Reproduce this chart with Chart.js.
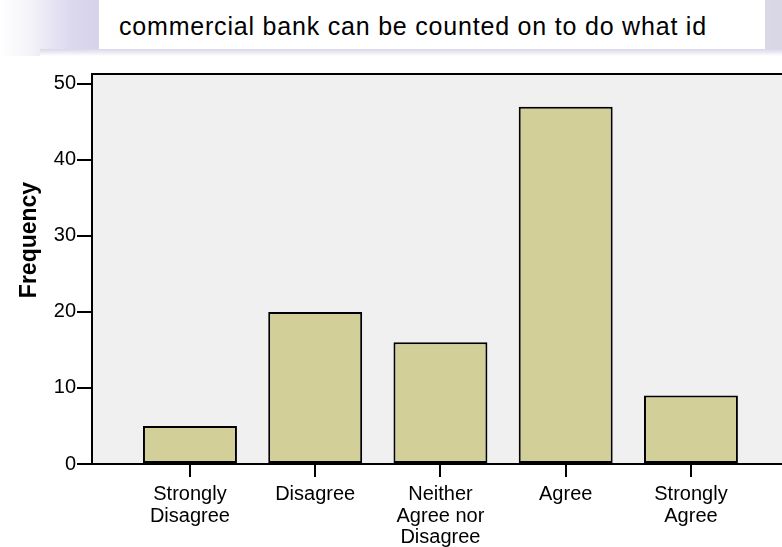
<!DOCTYPE html>
<html>
<head>
<meta charset="utf-8">
<script src="https://cdn.jsdelivr.net/npm/chart.js@4/dist/chart.umd.min.js"></script>
<style>
    html, body {
        margin: 0;
        padding: 0;
        background: #ffffff;
        overflow: hidden;
    }
    #wrap {
        position: relative;
        width: 782px;
        height: 547px;
    }
    .backdrop {
        position: absolute;
        left: 0;
        top: 0;
        width: 782px;
        height: 56px;
        background: linear-gradient(to right, #ffffff 0px, #f4f3f9 30px, #dcd9ee 70px, #d6d3ea 99px, #e2e0ee 700px, #d8d6e4 782px);
    }
    .shade {
        position: absolute;
        left: 40px;
        top: 49px;
        width: 742px;
        height: 7px;
        background: linear-gradient(to bottom, #d9d6ea, #ffffff);
    }
    .title-box {
        position: absolute;
        left: 99px;
        top: 0;
        width: 666px;
        height: 49px;
        background: #ffffff;
    }
    .title-box span {
        position: absolute;
        left: 20px;
        top: 12px;
        font-family: "Liberation Sans", Arial, sans-serif;
        font-size: 25px;
        letter-spacing: 0.8px;
        color: #000000;
        white-space: nowrap;
    }
    canvas {
        position: absolute;
        left: 0;
        top: 0;
    }
</style>
</head>
<body>
<div id="wrap">
    <div class="backdrop"></div>
    <div class="shade"></div>
    <div class="title-box"><span>commercial bank can be counted on to do what id</span></div>
    <canvas id="barChart" width="782" height="547"></canvas>
</div>
<script>
// answer categories (multi-line tick labels)
const categories = [
    ['Strongly', 'Disagree'],
    ['Disagree'],
    ['Neither', 'Agree nor', 'Disagree'],
    ['Agree'],
    ['Strongly', 'Agree']
];
const frequencies = [5, 20, 16, 47, 9];
const yTicks = [0, 10, 20, 30, 40, 50];
const yTitle = 'Frequency';

const FONT = '"Liberation Sans", Arial, sans-serif';

// gray plot background + top border line + y axis title
const plotFrame = {
    id: 'plotFrame',
    beforeDraw(chart) {
        const { ctx, chartArea } = chart;
        ctx.save();
        ctx.fillStyle = '#f0f0f0';
        ctx.fillRect(chartArea.left, chartArea.top, chartArea.right - chartArea.left, chartArea.bottom - chartArea.top);
        ctx.strokeStyle = '#000000';
        ctx.lineWidth = 2;
        ctx.beginPath();
        ctx.moveTo(chartArea.left, chartArea.top);
        ctx.lineTo(chartArea.right, chartArea.top);
        ctx.stroke();

        // SPSS puts the axis title a bit above the middle
        ctx.translate(30, 240);
        ctx.rotate(-Math.PI / 2);
        ctx.fillStyle = '#000000';
        ctx.font = 'bold 23px ' + FONT;
        ctx.textAlign = 'center';
        ctx.textBaseline = 'middle';
        ctx.fillText(yTitle, 0, 0);
        ctx.restore();
    }
};

const ctx = document.getElementById('barChart').getContext('2d');
const chart = new Chart(ctx, {
    type: 'bar',
    data: {
        datasets: [{
            label: yTitle,
            data: frequencies.map((v, i) => ({ x: i, y: v })),
            backgroundColor: '#d3cf98',
            borderColor: '#000000',
            borderWidth: 2,
            borderSkipped: false,
            barPercentage: 0.75,
            categoryPercentage: 1
        }]
    },
    options: {
        responsive: false,
        animation: false,
        layout: {
            padding: { left: 0, right: 0, top: 74, bottom: 0 }
        },
        plugins: {
            legend: { display: false },
            tooltip: { enabled: false }
        },
        scales: {
            x: {
                type: 'linear',
                offset: false,
                min: -0.782,
                max: 4.727,
                afterBuildTicks: (axis) => {
                    axis.ticks = categories.map((c, i) => ({ value: i }));
                },
                afterFit: (axis) => {
                    axis.height = 83;
                },
                grid: {
                    offset: false,
                    drawOnChartArea: false,
                    color: '#000000',
                    lineWidth: 2,
                    tickLength: 13
                },
                border: { display: true, color: '#000000', width: 2 },
                ticks: {
                    autoSkip: false,
                    maxRotation: 0,
                    padding: 7,
                    color: '#000000',
                    font: { family: FONT, size: 20, lineHeight: 1.07 },
                    callback: (value) => categories[value]
                }
            },
            y: {
                min: 0,
                max: 51.3,
                afterBuildTicks: (axis) => {
                    axis.ticks = yTicks.map(v => ({ value: v }));
                },
                afterFit: (axis) => {
                    axis.width = 92;
                },
                grid: {
                    drawOnChartArea: false,
                    color: '#000000',
                    lineWidth: 2,
                    tickLength: 15
                },
                border: { display: true, color: '#000000', width: 2 },
                ticks: {
                    padding: 1,
                    color: '#000000',
                    font: { family: FONT, size: 20 }
                }
            }
        }
    },
    plugins: [plotFrame]
});
</script>
</body>
</html>
